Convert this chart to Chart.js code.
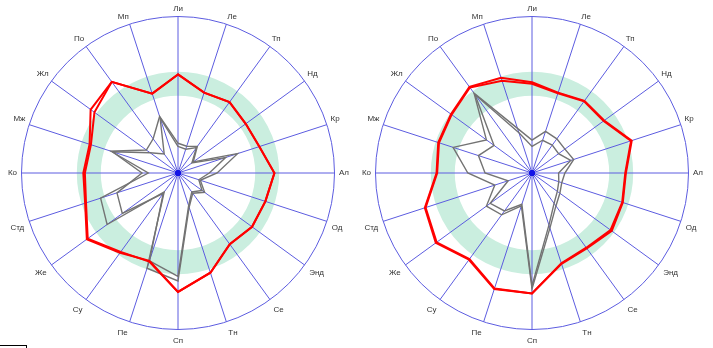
<!DOCTYPE html>
<html>
<head>
<meta charset="utf-8">
<script src="https://cdn.jsdelivr.net/npm/chart.js@4/dist/chart.umd.min.js"></script>
<style>
  html, body { margin: 0; padding: 0; background: #ffffff; }
  #wrap { position: relative; width: 713px; height: 348px; overflow: hidden; }
  #c1 { position: absolute; left: 0; top: 0; }
  #c2 { position: absolute; left: 354px; top: 0; }
  #stub { position: absolute; left: 0; top: 345px; width: 26px; height: 4px;
          border-top: 1px solid #000; border-right: 1px solid #000; }
</style>
</head>
<body>
<div id="wrap">
  <canvas id="c1" width="356" height="348"></canvas>
  <canvas id="c2" width="357" height="348"></canvas>
  <div id="stub"></div>
</div>
<script>
// Categories (clockwise from top)
const labels = ['Ли','Ле','Тп','Нд','Кр','Ал','Од','Энд','Се','Тн','Сп','Пе','Су','Же','Стд','Ко','Мж','Жл','По','Мп'];

// Left chart series
const leftRed1  = [63, 54, 56, 53.5, 54.6, 61.6, 58.7, 58.5, 56.3, 67, 76, 59, 63, 72, 62.4, 60.5, 59.4, 69, 72, 53.3];
const leftRed2  = [63, 54, 56, 53.5, 54.6, 61.6, 58.7, 58.5, 56.3, 67, 76, 59.5, 62.3, 71.3, 61.8, 59.5, 58.5, 66, 72, 53.3];
const leftGray1 = [19, 18, 21, 12, 40, 25, 15, 21, 16, 23, 69, 64, 15, 56, 52, 19, 45, 25, 27, 38];
const leftGray2 = [17, 16, 20, 11, 32, 20, 14, 19, 15, 22, 66, 59, 16, 44, 41, 23, 44, 22, 15, 37];

// Right chart series
const rightRed1  = [58, 54, 57, 57, 67, 60, 61, 63, 59.5, 61, 77, 78, 68.5, 76, 72, 61, 63, 64, 68, 64];
const rightRed2  = [57, 53.6, 56.6, 56.6, 66.5, 59.6, 60.6, 62, 59, 60.6, 77, 77.6, 68, 75.3, 71.5, 60.6, 62.5, 63.5, 67.5, 62];
const rightGray1 = [21, 28, 27, 26, 28, 21, 20, 22, 26, 37, 74, 22, 33, 36, 25, 41, 53, 36, 63, 30];
const rightGray2 = [17, 22, 22, 21, 26, 17, 18, 20, 24, 35, 72, 21, 30, 33, 16, 30, 36, 30, 62, 27];

// Scale ticks: centre, reference band, outer ring
const scaleTicks = [0, 57, 100];
const bandTick = 57;

// Geometry of each radar (in its own canvas)
const RADIUS = 156.5;
const CENTER_X = 178;
const CENTER_Y = 173;

const BLUE = 'rgb(92,92,224)';
const BAND = 'rgb(202,238,223)';

function pinGeometry(s) {
  const n = labels.length;
  const oldR = s.drawingArea, oldX = s.xCenter, oldY = s.yCenter;
  const dR = RADIUS - oldR, dX = CENTER_X - oldX, dY = CENTER_Y - oldY;
  const items = s._pointLabelItems || [];
  items.forEach((it, i) => {
    const th = 2 * Math.PI * i / n;
    const sx = dX + dR * Math.sin(th);
    const sy = dY - dR * Math.cos(th);
    it.x += sx; it.left += sx; it.right += sx;
    it.y += sy; it.top += sy; it.bottom += sy;
  });
  s.drawingArea = RADIUS;
  s.xCenter = CENTER_X;
  s.yCenter = CENTER_Y;
}

function makeChart(id, red1, red2, gray1, gray2) {
  const zeros = labels.map(() => 0);
  const n = labels.length;
  return new Chart(document.getElementById(id), {
    type: 'radar',
    data: {
      labels: labels,
      datasets: [
        { data: zeros, borderWidth: 0, pointRadius: 2.5, pointBackgroundColor: 'rgb(20,20,230)', pointBorderWidth: 0, showLine: false },
        { data: red1, borderColor: '#ff0000', borderWidth: 2, pointRadius: 0, fill: false },
        { data: red2, borderColor: '#ff0000', borderWidth: 2, pointRadius: 0, fill: false },
        { data: gray1, borderColor: 'rgb(115,115,115)', borderWidth: 1.4, pointRadius: 0, fill: false },
        { data: gray2, borderColor: 'rgb(115,115,115)', borderWidth: 1.4, pointRadius: 0, fill: false }
      ]
    },
    options: {
      responsive: false,
      devicePixelRatio: 1,
      animation: false,
      layout: { padding: 0 },
      plugins: { legend: { display: false }, tooltip: { enabled: false } },
      elements: { line: { tension: 0 } },
      scales: {
        r: {
          min: 0, max: 100,
          afterBuildTicks: (s) => { s.ticks = scaleTicks.map(v => ({ value: v })); },
          afterFit: pinGeometry,
          ticks: { display: false },
          grid: {
            circular: true,
            color: (ctx) => ctx.tick && ctx.tick.value === bandTick ? BAND : BLUE,
            lineWidth: (ctx) => ctx.tick && ctx.tick.value === bandTick ? 24 : 1
          },
          angleLines: { color: BLUE, lineWidth: 1 },
          pointLabels: {
            padding: (ctx) => 4.5 - 2 * Math.cos(2 * Math.PI * ctx.index / n),
            color: '#333333',
            font: { family: 'Liberation Sans, Arial, sans-serif', size: 8 }
          }
        }
      }
    }
  });
}

makeChart('c1', leftRed1, leftRed2, leftGray1, leftGray2);
makeChart('c2', rightRed1, rightRed2, rightGray1, rightGray2);
</script>
</body>
</html>
